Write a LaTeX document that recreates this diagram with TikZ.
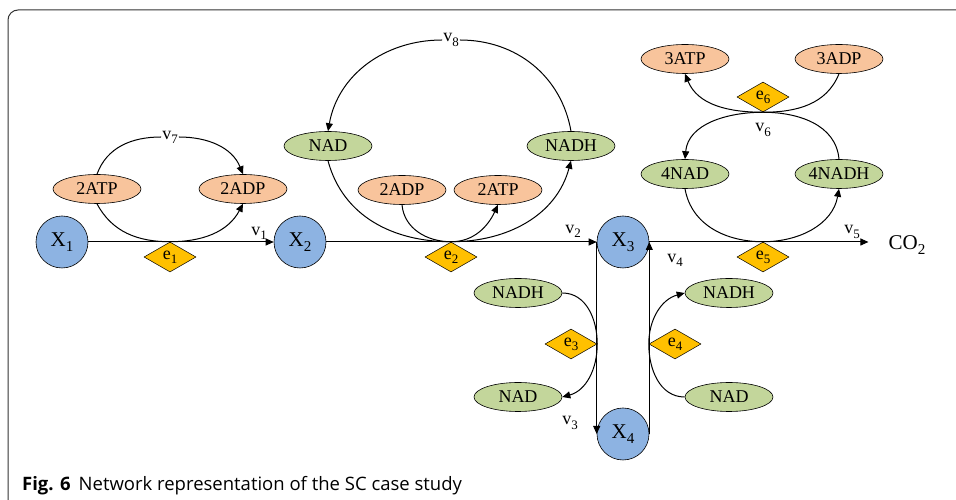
\documentclass[tikz,border=0pt]{standalone}
\usepackage{fontspec}
\setmainfont{Liberation Serif}
\newfontfamily\capfont{Open Sans}
\usetikzlibrary{shapes.geometric,arrows.meta}
\definecolor{peach}{HTML}{F8C49C}
\definecolor{olive}{HTML}{C3D69B}
\definecolor{sky}{HTML}{8DB3E2}
\definecolor{gold}{HTML}{FFC000}
\definecolor{framegray}{HTML}{333333}
\newcommand\lo[1]{\raisebox{-0.5ex}{\scalebox{0.72}{#1}}}
\begin{document}
\begin{tikzpicture}[x=1pt,y=1pt,
  every node/.style={inner sep=0pt},
  met/.style={ellipse, draw=black, line width=0.6pt, minimum width=88pt, minimum height=29pt, font=\fontsize{18}{18}\selectfont},
  atp/.style={met, fill=peach},
  nad/.style={met, fill=olive},
  xnode/.style={circle, draw=black, line width=0.6pt, fill=sky, minimum size=52pt, font=\fontsize{21}{21}\selectfont},
  enz/.style={diamond, draw=black, line width=0.5pt, fill=gold, minimum width=52pt, minimum height=30pt, font=\fontsize{18}{18}\selectfont},
  lab/.style={font=\fontsize{18}{18}\selectfont},
  flow/.style={line width=1pt, draw=black},
  arr/.style={flow, -{Triangle[length=8pt,width=7pt]}},
  frame/.style={draw=framegray, line width=1pt, rounded corners=10pt},
]
\useasboundingbox (0,0) rectangle (956,500);
\draw[frame] (956,490) -- (8,490) -- (8,0);

% species nodes
\node[xnode] (X1) at (62,258) {X\lo{1}};
\node[xnode] (X2) at (300,258) {X\lo{2}};
\node[xnode] (X3) at (623,258) {X\lo{3}};
\node[xnode] (X4) at (623,66) {X\lo{4}};

\node[atp] (atpA) at (97,311) {2ATP};
\node[atp] (adpA) at (243,311) {2ADP};
\node[nad] (nadT) at (328,354) {NAD};
\node[nad] (nadhT) at (571,354) {NADH};
\node[atp] (adpM) at (402,310) {2ADP};
\node[atp] (atpM) at (498,310) {2ATP};
\node[atp] (atp3) at (685,441) {3ATP};
\node[atp] (adp3) at (839,441) {3ADP};
\node[nad] (nad4) at (685,326) {4NAD};
\node[nad] (nadh4) at (839,326) {4NADH};
\node[nad] (nadhL) at (518,207) {NADH};
\node[nad] (nadL) at (518,103) {NAD};
\node[nad] (nadhR) at (729,207) {NADH};
\node[nad] (nadR) at (729,103) {NAD};

% enzymes
\node[enz] (e1) at (170,243) {e\lo{1}};
\node[enz] (e2) at (451,243) {e\lo{2}};
\node[enz] (e5) at (763,243) {e\lo{5}};
\node[enz] (e6) at (763,403) {e\lo{6}};
\node[enz] (e3) at (571,156) {e\lo{3}};
\node[enz] (e4) at (675,156) {e\lo{4}};

\node[font=\fontsize{21}{21}\selectfont, inner sep=3pt] (CO2) at (907,255) {CO\lo{2}};

% loop labels with white background
\node[lab, fill=white, inner sep=1pt] (v7) at (170,363) {v\lo{7}};
\node[lab, fill=white, inner sep=1pt] (v8) at (451,460) {v\lo{8}};

% main flows
\draw[arr] (X1.east) -- (X2.west);
\draw[arr] (X2.east) -- (X3.west);
\draw[arr] (X3.west) -- (X4.west);
\draw[arr] (X4.east) -- (X3.east);
\draw[arr, shorten >=17pt] (X3.east) -- (X3.east -| CO2.west);

% v7 cycle
\draw[flow] (atpA.north) to[out=70,in=180] (v7);
\draw[arr] (v7) to[out=0,in=112] (adpA.north);
\draw[flow] (atpA.south) to[out=-62,in=180] (e1.north);
\draw[arr] (e1.north) to[out=0,in=-118] (adpA.south);

% v8 cycle
\draw[flow] (nadhT.north) to[out=100,in=0] (v8);
\draw[arr] (v8) to[out=180,in=80] (nadT.north);
\draw[flow] (nadT.south) to[out=-75,in=180] (e2.north);
\draw[arr] (e2.north) to[out=0,in=-105] (nadhT.south);
\draw[flow] (adpM.south) to[out=-85,in=180] (e2.north);
\draw[arr] (e2.north) to[out=0,in=-115] (atpM.south);

% v6 / v5
\draw[flow] (adp3.south) to[out=-112,in=0] (e6.south);
\draw[arr] (e6.south) to[out=180,in=-68] (atp3.south);
\draw[flow] (nadh4.north) to[out=95,in=0] (e6.south);
\draw[arr] (e6.south) to[out=180,in=85] (nad4.north);
\draw[flow] (nad4.south) to[out=-80,in=180] (e5.north);
\draw[arr] (e5.north) to[out=0,in=-100] (nadh4.south);

% e3 / e4
\draw[flow] (nadhL.east) to[out=0,in=90] (e3.east);
\draw[arr] (e3.east) to[out=-90,in=15] (nadL.east);
\draw[flow] (nadR.west) to[out=180,in=-90] (e4.west);
\draw[arr] (e4.west) to[out=90,in=195] (nadhR.west);

% flux labels
\node[lab] (v1) at (259,267) {v\lo{1}};
\node[lab] (v2) at (573,269) {v\lo{2}};
\node[lab] (v3) at (570,77) {v\lo{3}};
\node[lab] (v4) at (675,240) {v\lo{4}};
\node[lab] (v5) at (852,268) {v\lo{5}};
\node[lab] (v6) at (763,370) {v\lo{6}};

% caption
\node[anchor=base west, font=\capfont\fontsize{18.5}{18.5}\selectfont] (cap) at (22,9) {\textbf{Fig. 6}\hspace{8pt}Network representation of the SC case study};
\end{tikzpicture}
\end{document}
